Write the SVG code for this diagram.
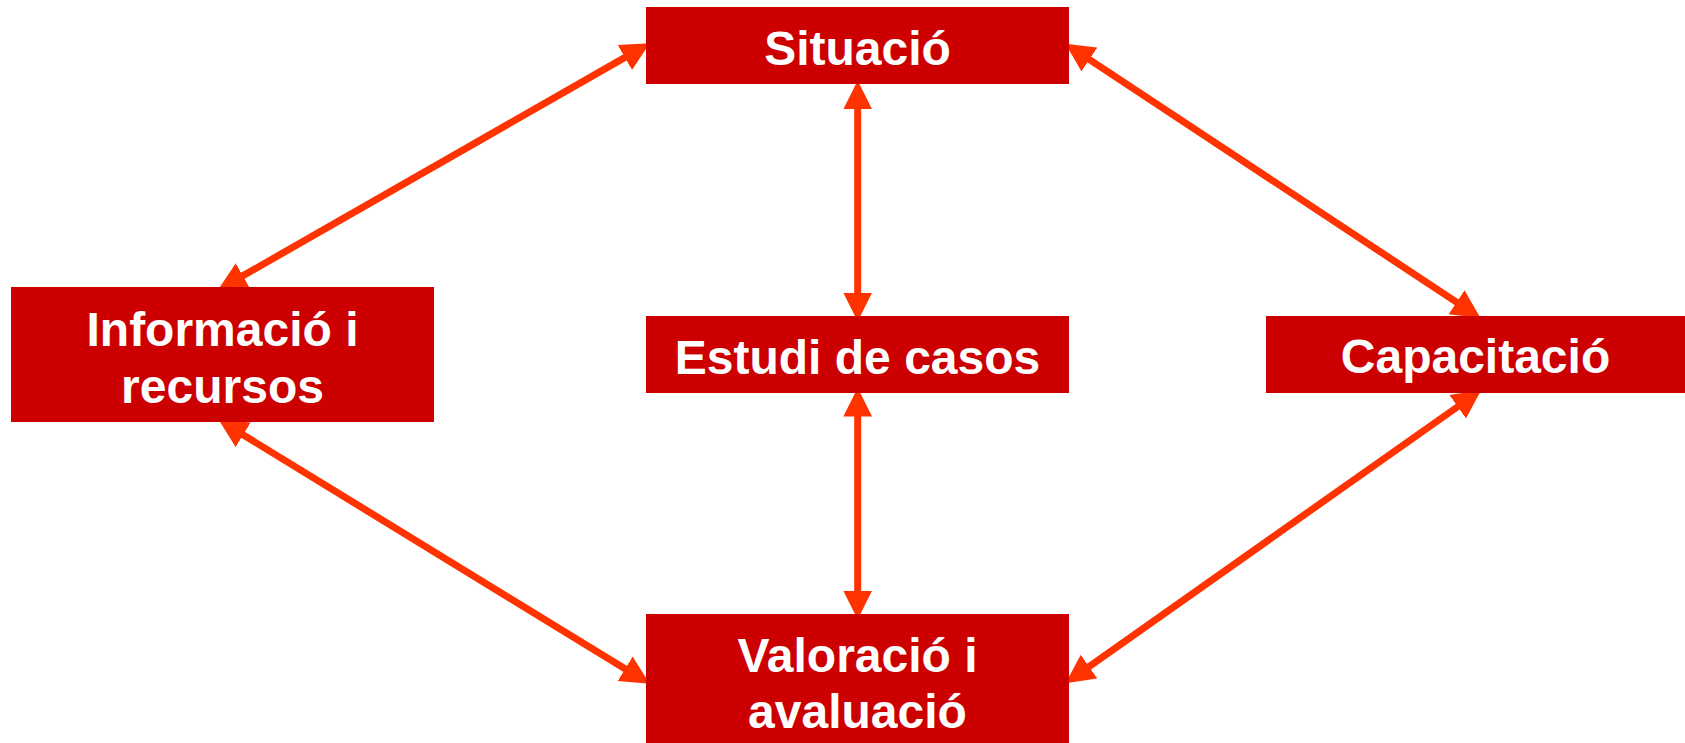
<svg xmlns="http://www.w3.org/2000/svg" width="1685" height="743" viewBox="0 0 1685 743">
<style>
.box{fill:#CC0000;}
.lbl{fill:#FFFFFF;font-family:"Liberation Sans",Arial,sans-serif;font-weight:bold;font-size:48px;text-anchor:middle;}
.conn{stroke:#FF3300;stroke-width:7;fill:none;marker-start:url(#ah);marker-end:url(#ah);}
</style>
<defs>
<marker id="ah" markerUnits="userSpaceOnUse" markerWidth="30" markerHeight="30" viewBox="0 -12 24 24" refX="1" refY="0" orient="auto-start-reverse">
<path d="M0,-11.5 L23,0 L0,11.5 z" fill="#FF3300"/>
</marker>
</defs>
<rect width="1685" height="743" fill="#FFFFFF"/>
<g id="connectors">
<line class="conn" x1="625.9" y1="56.9" x2="241.8" y2="276.4"/>
<line class="conn" x1="242.1" y1="434.2" x2="626.2" y2="669.5"/>
<line class="conn" x1="1088.4" y1="58.8" x2="1457.6" y2="302.9"/>
<line class="conn" x1="1458.7" y1="406.0" x2="1088.0" y2="667.3"/>
<line class="conn" x1="857.7" y1="108" x2="857.7" y2="294"/>
<line class="conn" x1="857.7" y1="415.3" x2="857.7" y2="592"/>
</g>
<g id="situacio">
<rect class="box" x="646" y="7" width="423" height="77"/>
<text class="lbl" x="857.5" y="65">Situació</text>
</g>
<g id="informacio">
<rect class="box" x="11" y="287" width="423" height="135"/>
<text class="lbl" x="222.5" y="346">Informació i</text>
<text class="lbl" x="222.5" y="402.7">recursos</text>
</g>
<g id="estudi">
<rect class="box" x="646" y="316" width="423" height="77"/>
<text class="lbl" x="857.5" y="374">Estudi de casos</text>
</g>
<g id="capacitacio">
<rect class="box" x="1266" y="316" width="419" height="77"/>
<text class="lbl" x="1475.5" y="373">Capacitació</text>
</g>
<g id="valoracio">
<rect class="box" x="646" y="614" width="423" height="129"/>
<text class="lbl" x="857.5" y="671.7">Valoració i</text>
<text class="lbl" x="857.5" y="727.7">avaluació</text>
</g>
</svg>
